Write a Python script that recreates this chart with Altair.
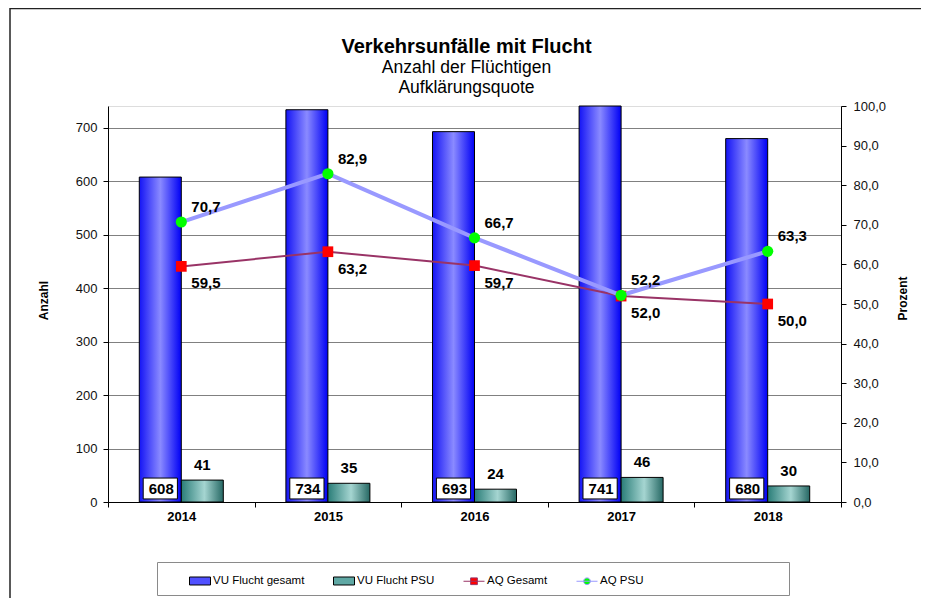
import altair as alt
import pandas as pd

FONT = "Liberation Sans"

years = ["2014", "2015", "2016", "2017", "2018"]
vu_gesamt = [608, 734, 693, 741, 680]
vu_psu = [41, 35, 24, 46, 30]
aq_gesamt = [59.5, 63.2, 59.7, 52.0, 50.0]
aq_psu = [70.7, 82.9, 66.7, 52.2, 63.3]
series_names = ["VU Flucht gesamt", "VU Flucht PSU", "AQ Gesamt", "AQ PSU"]
left_ticks = [0, 100, 200, 300, 400, 500, 600, 700]
right_ticks = [0, 10, 20, 30, 40, 50, 60, 70, 80, 90, 100]

bars_df = pd.DataFrame({
    "year": years * 2,
    "series": [series_names[0]] * 5 + [series_names[1]] * 5,
    "value": vu_gesamt + vu_psu,
})
lines_df = pd.DataFrame({
    "year": years * 2,
    "series": [series_names[2]] * 5 + [series_names[3]] * 5,
    "value": aq_gesamt + aq_psu,
})
legend_df = pd.DataFrame({"series": series_names})
frame_df = pd.DataFrame({"k": [0]})

x_enc = alt.X(
    "year:N", sort=years, title=None,
    scale=alt.Scale(paddingInner=0, paddingOuter=0),
    axis=alt.Axis(labelAngle=0, labelFont=FONT, labelFontSize=13, labelFontWeight="bold",
                  labelColor="#000", tickBand="extent", tickSize=5, tickColor="#000",
                  domainColor="#000", labelPadding=3, grid=False),
)
xoff = alt.XOffset("series:N", sort=series_names[:2],
                   scale=alt.Scale(domain=series_names[:2], paddingInner=0, paddingOuter=0.745))

y_left = alt.Y(
    "value:Q", scale=alt.Scale(domain=[0, 741], nice=False),
    axis=alt.Axis(values=left_ticks, grid=True, gridColor="#808080", gridWidth=1,
                  domainColor="#000", tickColor="#000", tickSize=5,
                  labelFont=FONT, labelFontSize=13, labelColor="#111", labelPadding=6,
                  title="Anzahl", titleFont=FONT, titleFontSize=12, titleFontWeight="bold",
                  titleColor="#000", titleAngle=270, titleX=-65, titleY=194,
                  titleAlign="center", titleBaseline="middle"),
)
y_right = alt.Y(
    "value:Q", scale=alt.Scale(domain=[0, 100], nice=False),
    axis=alt.Axis(orient="right", values=right_ticks, grid=False,
                  labelExpr="replace(format(datum.value, '.1f'), '.', ',')",
                  domainColor="#000", tickColor="#000", tickSize=5,
                  labelFont=FONT, labelFontSize=13, labelColor="#111", labelPadding=7,
                  title="Prozent", titleFont=FONT, titleFontSize=12, titleFontWeight="bold",
                  titleColor="#000", titleAngle=270, titleX=61, titleY=192,
                  titleAlign="center", titleBaseline="middle"),
)

blue_grad = {"gradient": "linear", "x1": 0, "x2": 1, "y1": 0, "y2": 0,
             "stops": [{"offset": 0, "color": "#1414f5"}, {"offset": 0.5, "color": "#8a8aff"},
                       {"offset": 1, "color": "#0000f5"}]}
teal_grad = {"gradient": "linear", "x1": 0, "x2": 1, "y1": 0, "y2": 0,
             "stops": [{"offset": 0, "color": "#2a7d78"}, {"offset": 0.55, "color": "#a5d5d1"},
                       {"offset": 1, "color": "#266864"}]}

box_path = "M-0.9,-0.55H0.9V0.55H-0.9Z"

base_bars = alt.Chart(bars_df)
f_blue = f"datum.series == '{series_names[0]}'"
f_teal = f"datum.series == '{series_names[1]}'"
blue_bar = base_bars.mark_bar(fill=blue_grad, stroke="#000", strokeWidth=1).encode(
    x=x_enc, xOffset=xoff, y=y_left).transform_filter(f_blue)
teal_bar = base_bars.mark_bar(fill=teal_grad, stroke="#000", strokeWidth=1).encode(
    x=x_enc, xOffset=xoff, y=y_left).transform_filter(f_teal)
box = base_bars.mark_point(shape=box_path, size=1444, filled=False, fill="#fff",
                           stroke="#000", strokeWidth=1, opacity=1, fillOpacity=1).encode(
    x=x_enc, xOffset=xoff, y=alt.value(382.5)
).transform_filter(f_blue)
box_text = base_bars.mark_text(font=FONT, fontSize=15, fontWeight="bold", color="#000",
                               baseline="middle", dx=1).encode(
    x=x_enc, xOffset=xoff, y=alt.value(383), text="value:Q"
).transform_filter(f_blue)
teal_text = base_bars.mark_text(font=FONT, fontSize=15, fontWeight="bold", color="#000",
                                baseline="bottom", dy=-7).encode(
    x=x_enc, xOffset=xoff, y=y_left, text="value:Q"
).transform_filter(f_teal)
group_a = alt.layer(blue_bar, teal_bar, box, box_text, teal_text)

base_lines = alt.Chart(lines_df).transform_calculate(
    lab="replace(format(datum.value, '.1f'), '.', ',')")
g_filter = f"datum.series == '{series_names[2]}'"
p_filter = f"datum.series == '{series_names[3]}'"
line_g = base_lines.mark_line(color="#993366", strokeWidth=2).encode(
    x=x_enc, y=y_right).transform_filter(g_filter)
pts_g = base_lines.mark_square(size=115, color="#ff0000", opacity=1).encode(
    x=x_enc, y=y_right).transform_filter(g_filter)
line_p = base_lines.mark_line(color="#9999ff", strokeWidth=4).encode(
    x=x_enc, y=y_right).transform_filter(p_filter)
pts_p = base_lines.mark_circle(size=125, color="#00ff00", opacity=1).encode(
    x=x_enc, y=y_right).transform_filter(p_filter)
lab_g = base_lines.mark_text(font=FONT, fontSize=15, fontWeight="bold", color="#000",
                             align="left", baseline="middle", dx=10, dy=17).encode(
    x=x_enc, y=y_right, text="lab:N").transform_filter(g_filter)
lab_p = base_lines.mark_text(font=FONT, fontSize=15, fontWeight="bold", color="#000",
                             align="left", baseline="middle", dx=10, dy=-15).encode(
    x=x_enc, y=y_right, text="lab:N").transform_filter(p_filter)
group_b = alt.layer(line_g, pts_g, line_p, pts_p, lab_g, lab_p)

p_bar = "M-1,-0.38H1V0.38H-1Z"
p_sq = "M-1,0H1M-0.32,-0.32H0.32V0.32H-0.32Z"
p_ci = "M-1,0H1M0.32,0A0.32,0.32,0,1,1,-0.32,0A0.32,0.32,0,1,1,0.32,0Z"
pad = "\u00a0" * 43 + "\u200b"
spacer = "\u00a0"
leg = alt.Legend(orient="none", legendX=49, legendY=456, direction="horizontal", columns=4,
                 symbolSize=441, symbolOpacity=1, labelFont=FONT, labelFontSize=11.5,
                 labelColor="#000", labelOffset=2, labelLimit=400, columnPadding=26,
                 padding=8, strokeColor="#8a8a8a", fillColor="#fff",
                 titleOrient="left", titlePadding=24, titleFontSize=11.5, titleFont=FONT,
                 labelExpr=f"datum.label == 'AQ PSU' ? 'AQ PSU{pad}' : datum.label")
legend_layer = alt.Chart(legend_df).mark_point(filled=True, opacity=1).encode(
    x=alt.value(0), y=alt.value(0),
    fill=alt.Fill("series:N", title=spacer, legend=leg,
                  scale=alt.Scale(domain=series_names,
                                  range=["#5050ff", "#5fa8a4", "#ff0000", "#00ff00"])),
    stroke=alt.Stroke("series:N", title=spacer, legend=leg,
                      scale=alt.Scale(domain=series_names,
                                      range=["#000000", "#000000", "#993366", "#9999ff"])),
    shape=alt.Shape("series:N", title=spacer, legend=leg,
                    scale=alt.Scale(domain=series_names, range=[p_bar, p_bar, p_sq, p_ci])),
    strokeWidth=alt.StrokeWidth("series:N", title=spacer, legend=leg,
                                scale=alt.Scale(domain=series_names, range=[1, 1, 2, 3])),
).transform_filter("datum.series == 'none'")

frame_left = alt.Chart(frame_df).mark_rule(color="#222", strokeWidth=1.5).encode(
    x=alt.value(-98), y=alt.value(-98), y2=alt.value(500))
frame_top = alt.Chart(frame_df).mark_rule(color="#222", strokeWidth=1.5).encode(
    x=alt.value(-98), x2=alt.value(820), y=alt.value(-97.5))

chart = alt.layer(frame_left, frame_top, group_a, group_b, legend_layer).resolve_scale(
    y="independent"
).properties(
    width=733, height=396,
    autosize=alt.AutoSizeParams(type="none"),
    padding={"left": 100, "top": 98, "right": 80, "bottom": 96},
    title=alt.TitleParams(
        text="Verkehrsunfälle mit Flucht",
        subtitle=["Anzahl der Flüchtigen", "Aufklärungsquote"],
        font=FONT, fontSize=20, fontWeight="bold", color="#000",
        subtitleFont=FONT, subtitleFontSize=17.5, subtitleColor="#000",
        subtitlePadding=2, subtitleLineHeight=20,
        anchor="middle", frame="group", offset=-89, dx=-8,
    ),
).configure_view(strokeWidth=0).configure(background="#ffffff")

chart.save("out.html", embed_options={"renderer": "svg", "actions": False})
